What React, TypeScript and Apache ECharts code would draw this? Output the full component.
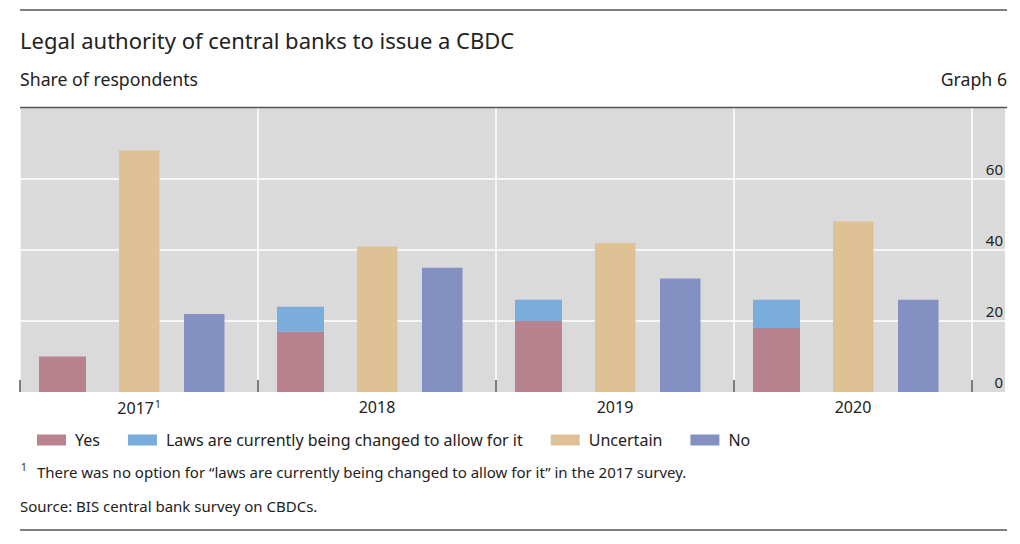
import React, { useEffect, useRef } from "react";
import * as echarts from "echarts";

const categories = ["2017", "2018", "2019", "2020"];
const yesValues = [10, 17, 20, 18];
const lawsValues: (number | string)[] = ["-", 7, 6, 8];
const uncertainValues = [68, 41, 42, 48];
const noValues = [22, 35, 32, 26];
const yTickLabels = ["0", "20", "40", "60"];
const spacer = ["-", "-", "-", "-"];

const FONT = "Noto Sans";
const TXT = "#222222";

export default function App() {
  const ref = useRef<HTMLDivElement>(null);
  useEffect(() => {
    if (!ref.current) return;
    const chart = echarts.init(ref.current, undefined, { renderer: "svg" });
    const common = { type: "bar", barGap: "0%", silent: true };
    const option: any = {
      animation: false,
      textStyle: { fontFamily: FONT, color: TXT },
      grid: [
        { left: 20, right: 15, top: 108, bottom: 152, show: true, backgroundColor: "#dadada", borderWidth: 0, z: 0 },
        { left: 20, right: 48, top: 108, bottom: 152 },
      ],
      xAxis: [
        { gridIndex: 0, type: "value", show: false, min: 0, max: 1 },
        {
          gridIndex: 1,
          type: "category",
          data: categories,
          axisLine: { show: false },
          axisTick: { show: true, inside: true, length: 12, lineStyle: { color: "#555", width: 1.5 } },
          splitLine: { show: true, lineStyle: { color: "#ffffff", width: 1.5 } },
          axisLabel: {
            fontFamily: FONT,
            fontSize: 16,
            color: TXT,
            margin: 7,
            formatter: (v: string) => (v === "2017" ? "{y|2017}{s|1}" : "{y|" + v + "}"),
            rich: {
              y: { fontFamily: FONT, fontSize: 16, color: TXT },
              s: { fontFamily: FONT, fontSize: 10, color: TXT, verticalAlign: "top", padding: [0, 0, 8, 1] },
            },
          },
        },
      ],
      yAxis: [
        {
          gridIndex: 0,
          type: "value",
          position: "right",
          min: 0,
          max: 80,
          interval: 20,
          axisLine: { show: false },
          axisTick: { show: false },
          splitLine: { show: true, showMinLine: false, showMaxLine: false, lineStyle: { color: "#ffffff", width: 1.5 } },
          axisLabel: {
            inside: true,
            margin: 2,
            verticalAlign: "bottom",
            padding: [0, 0, 3, 0],
            fontFamily: FONT,
            fontSize: 15,
            color: TXT,
            formatter: (v: number) => (yTickLabels.indexOf(String(v)) >= 0 ? String(v) : ""),
          },
        },
        { gridIndex: 1, type: "value", min: 0, max: 80, interval: 20, show: false },
      ],
      legend: {
        left: 32,
        top: 427,
        itemWidth: 29,
        itemHeight: 11,
        itemGap: 28,
        icon: "rect",
        data: ["Yes", "Laws are currently being changed to allow for it", "Uncertain", "No"],
        textStyle: { fontFamily: FONT, fontSize: 16, color: TXT, padding: [0, 0, 0, 4] },
      },
      series: [
        { ...common, name: "Yes", xAxisIndex: 1, yAxisIndex: 1, stack: "a", barWidth: 47, data: yesValues, itemStyle: { color: "#b8838e" } },
        { ...common, name: "Laws are currently being changed to allow for it", xAxisIndex: 1, yAxisIndex: 1, stack: "a", barWidth: 47, data: lawsValues, itemStyle: { color: "#7aaddc" } },
        { ...common, name: "gap1", xAxisIndex: 1, yAxisIndex: 1, barWidth: 33, data: spacer },
        { ...common, name: "Uncertain", xAxisIndex: 1, yAxisIndex: 1, barWidth: 40.5, data: uncertainValues, itemStyle: { color: "#dec296" } },
        { ...common, name: "gap2", xAxisIndex: 1, yAxisIndex: 1, barWidth: 24.5, data: spacer },
        { ...common, name: "No", xAxisIndex: 1, yAxisIndex: 1, barWidth: 40.5, data: noValues, itemStyle: { color: "#8391c2" } },
        { ...common, name: "gap3", xAxisIndex: 1, yAxisIndex: 1, barWidth: 14.5, data: spacer },
      ],
      graphic: [
        { type: "line", shape: { x1: 20, y1: 10, x2: 1007, y2: 10 }, style: { stroke: "#555", lineWidth: 1.5 } },
        { type: "text", left: 20, top: 29, style: { text: "Legal authority of central banks to issue a CBDC", fontFamily: FONT, fontSize: 22, fill: TXT } },
        { type: "text", left: 20, top: 70, style: { text: "Share of respondents", fontFamily: FONT, fontSize: 17.7, fill: TXT } },
        { type: "text", right: 13, top: 70, style: { text: "Graph 6", fontFamily: FONT, fontSize: 17.7, fill: TXT } },
        { type: "line", z: 10, shape: { x1: 20, y1: 107.5, x2: 1007, y2: 107.5 }, style: { stroke: "#555", lineWidth: 1.5 } },
        { type: "text", left: 21, top: 462, style: { text: "1", fontFamily: FONT, fontSize: 10, fill: TXT } },
        { type: "text", left: 37, top: 464, style: { text: "There was no option for \u201claws are currently being changed to allow for it\u201d in the 2017 survey.", fontFamily: FONT, fontSize: 15, fill: TXT } },
        { type: "text", left: 20, top: 498, style: { text: "Source: BIS central bank survey on CBDCs.", fontFamily: FONT, fontSize: 15, fill: TXT } },
        { type: "line", shape: { x1: 20, y1: 530, x2: 1007, y2: 530 }, style: { stroke: "#555", lineWidth: 1.5 } },
      ],
    };
    chart.setOption(option);
    return () => chart.dispose();
  }, []);
  return <div ref={ref} style={{ position: "absolute", left: 0, top: 0, width: 1020, height: 544 }} />;
}
